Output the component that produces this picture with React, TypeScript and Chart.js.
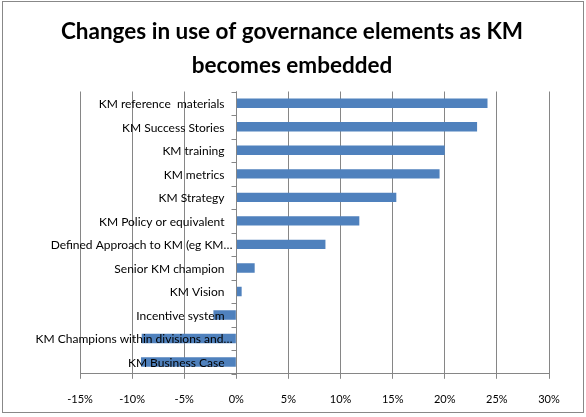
import React, { useEffect, useRef } from 'react';
import { Chart, registerables, Plugin } from 'chart.js';

Chart.register(...registerables);

// categories, top to bottom
const categories: string[] = [
  'KM reference  materials',
  'KM Success Stories',
  'KM training',
  'KM metrics',
  'KM Strategy',
  'KM Policy or equivalent',
  'Defined Approach to KM (eg KM…',
  'Senior KM champion',
  'KM Vision',
  'Incentive system',
  'KM Champions within divisions and…',
  'KM Business Case',
];

// change in use, as a fraction
const changeValues: number[] = [
  0.241, 0.231, 0.2, 0.195, 0.1535, 0.118, 0.0855, 0.0176, 0.0051, -0.022, -0.0908, -0.0915,
];

const titleLines: string[] = ['Changes in use of governance elements as KM', 'becomes embedded'];

const FONT = 'Lato, "Liberation Sans", sans-serif';
const GRID = '#868686';

// background + outer border
const frame: Plugin<'bar'> = {
  id: 'frame',
  beforeDraw(chart) {
    const { ctx, width, height } = chart;
    ctx.save();
    ctx.fillStyle = '#ffffff';
    ctx.fillRect(0, 0, width, height);
    ctx.strokeStyle = '#888888';
    ctx.lineWidth = 1;
    ctx.strokeRect(2.5, 1.5, 581, 411);
    ctx.restore();
  },
};

// category labels sit next to the 0% axis, like Excel does
const categoryLabels: Plugin<'bar'> = {
  id: 'categoryLabels',
  afterDatasetsDraw(chart) {
    const { ctx } = chart;
    const x = chart.scales.x;
    const y = chart.scales.y;
    const zero = Math.round(x.getPixelForValue(0)) + 0.5;
    ctx.save();
    // axis line and tick marks
    ctx.strokeStyle = GRID;
    ctx.lineWidth = 1;
    ctx.beginPath();
    ctx.moveTo(zero, chart.chartArea.top);
    ctx.lineTo(zero, chart.chartArea.bottom);
    for (let i = 0; i <= categories.length; i++) {
      const py = Math.round(y.getPixelForValue(i - 0.5)) + 0.5;
      ctx.moveTo(zero - 5, py);
      ctx.lineTo(zero, py);
    }
    ctx.stroke();
    ctx.fillStyle = '#000000';
    ctx.font = `12px ${FONT}`;
    ctx.textAlign = 'right';
    ctx.textBaseline = 'middle';
    categories.forEach((label, i) => {
      // truncated labels run a bit closer to the axis
      const gap = label.endsWith('…') ? 4 : 12;
      ctx.fillText(label, zero - gap, y.getPixelForValue(i) + 1);
    });
    ctx.restore();
  },
};

const App: React.FC = () => {
  const canvasRef = useRef<HTMLCanvasElement>(null);

  useEffect(() => {
    document.body.style.margin = '0';
    if (!canvasRef.current) return;
    const chart = new Chart(canvasRef.current, {
      type: 'bar',
      data: {
        labels: categories,
        datasets: [
          {
            data: changeValues,
            backgroundColor: '#4F81BD',
            borderWidth: 0,
            barPercentage: 0.4,
            categoryPercentage: 1,
          },
        ],
      },
      options: {
        indexAxis: 'y',
        animation: false,
        responsive: false,
        devicePixelRatio: 1,
        layout: { padding: { left: 35, right: 37, top: 0, bottom: -3 } },
        plugins: {
          legend: { display: false },
          tooltip: { enabled: false },
          title: {
            display: true,
            text: titleLines,
            color: '#000000',
            font: { family: FONT, size: 22.5, weight: 'bold', lineHeight: 1.5 },
            padding: { top: 15, bottom: 9 },
          },
        },
        scales: {
          x: {
            type: 'linear',
            min: -0.15,
            max: 0.3,
            ticks: {
              stepSize: 0.05,
              color: '#000000',
              font: { family: FONT, size: 11 },
              padding: 14,
              callback: (v) => `${Math.round(Number(v) * 100)}%`,
            },
            grid: { color: GRID, tickLength: 5, drawTicks: true },
            border: { color: GRID },
          },
          y: {
            type: 'category',
            display: true,
            ticks: { display: false },
            grid: { display: false },
            border: { display: false },
            afterFit: (scale) => {
              scale.width = 45;
            },
          },
        },
      },
      plugins: [frame, categoryLabels],
    });
    return () => chart.destroy();
  }, []);

  return (
    <div style={{ width: 586, height: 417 }}>
      <canvas ref={canvasRef} width={586} height={417} />
    </div>
  );
};

export default App;
